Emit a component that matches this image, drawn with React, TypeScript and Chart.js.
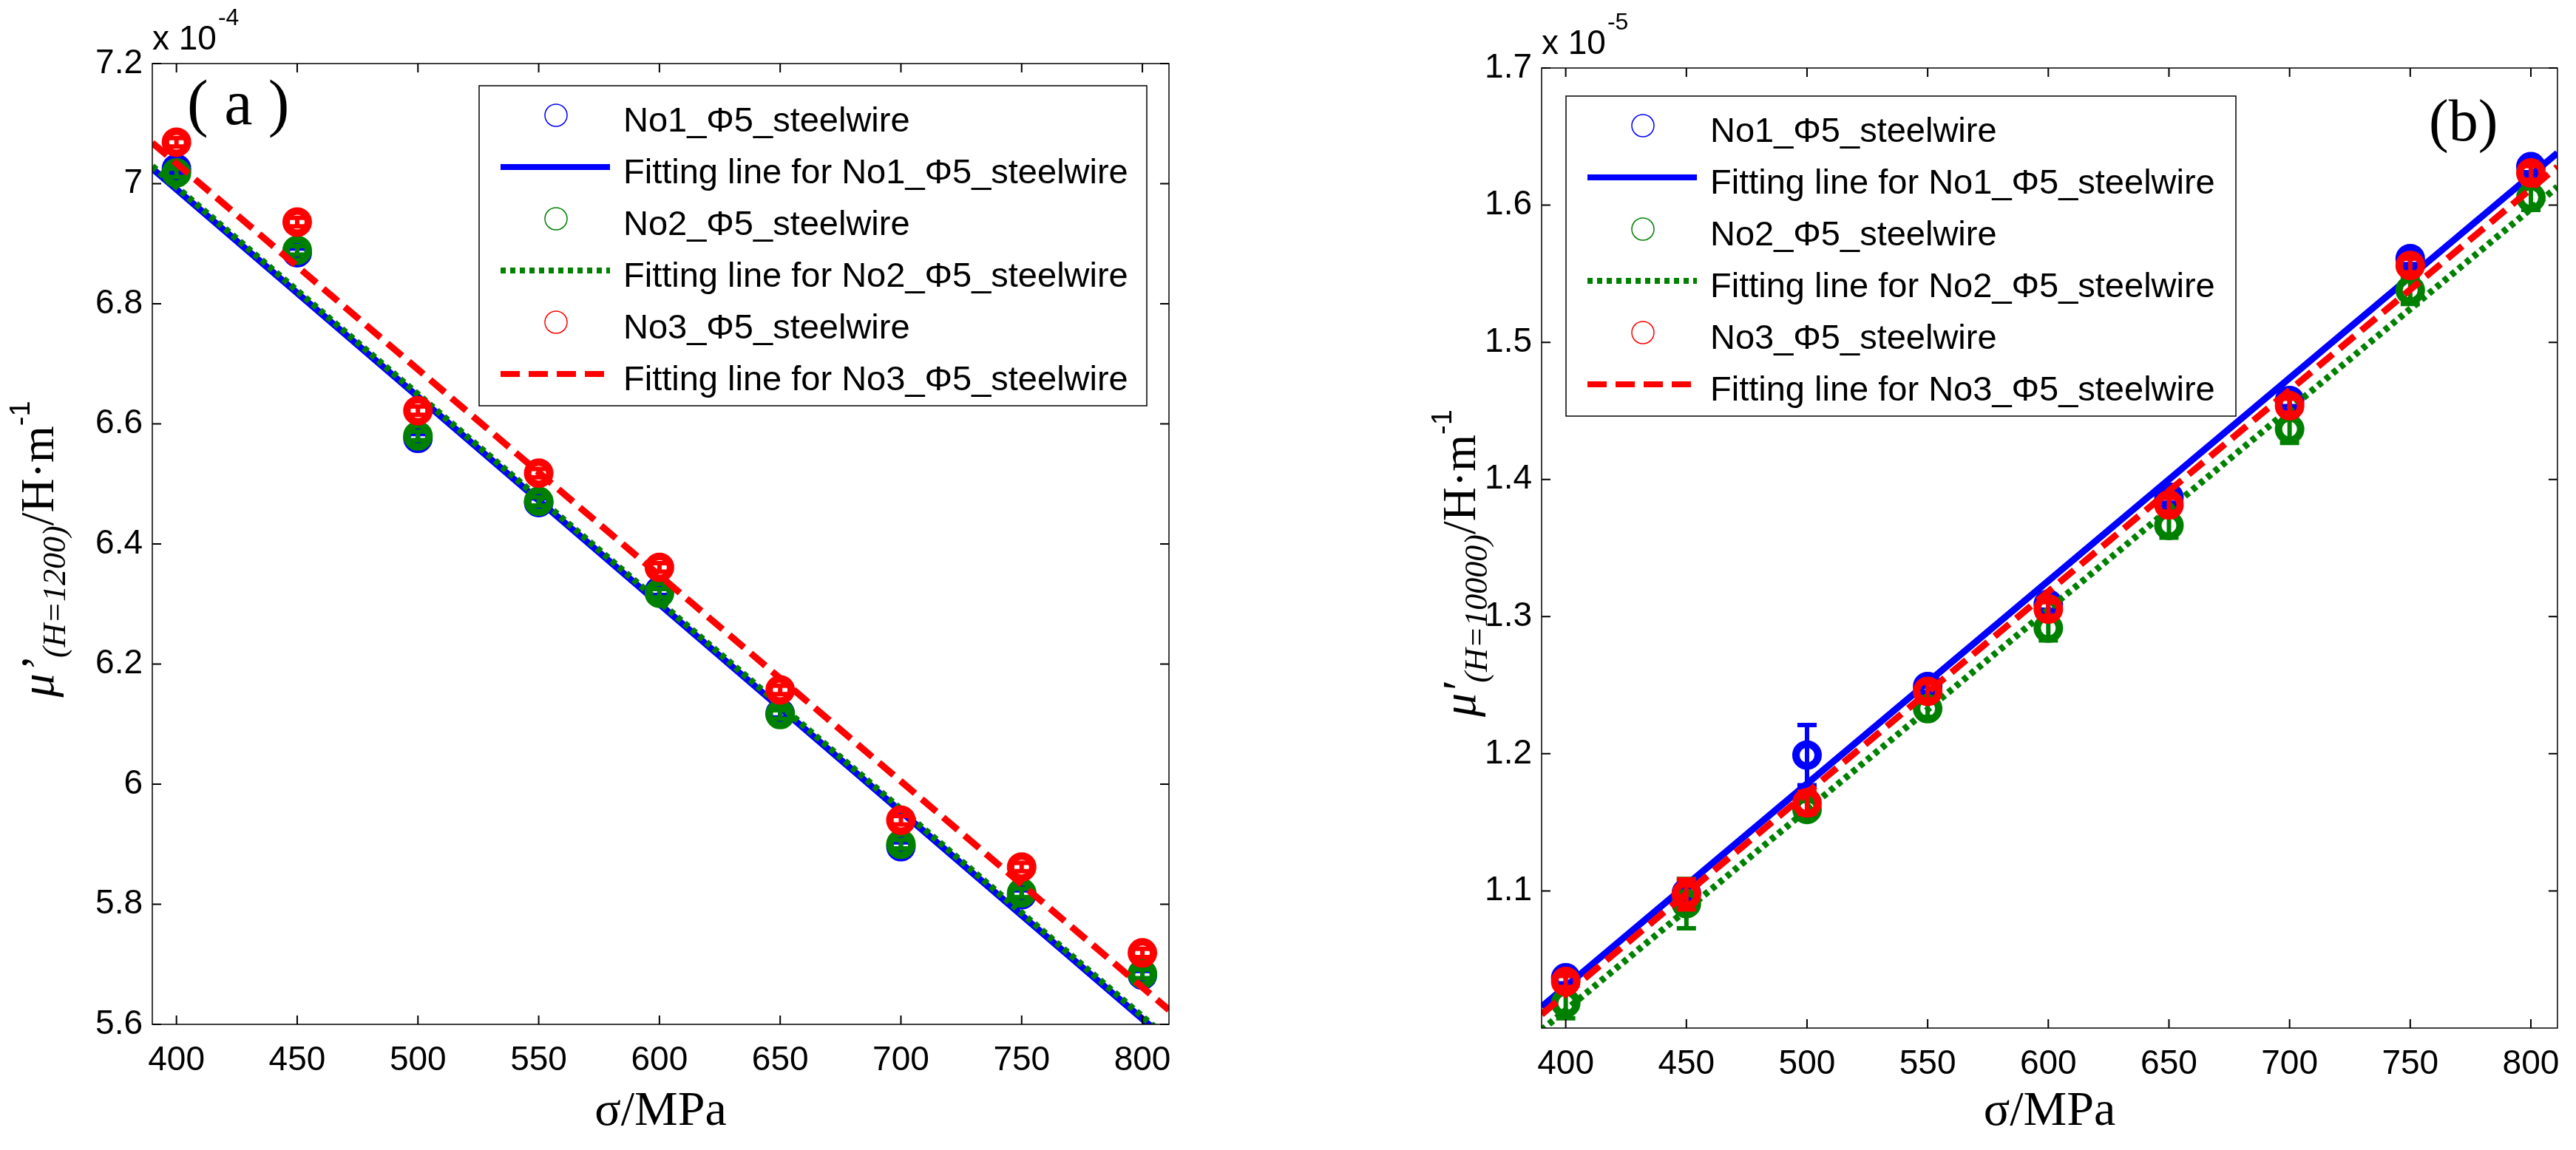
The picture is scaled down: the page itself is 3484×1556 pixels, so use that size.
import React, { useEffect, useRef } from 'react';
import { Chart, ChartConfiguration, Plugin, registerables } from 'chart.js';

Chart.register(...registerables);

// stress levels, MPa
const sigma = [400, 450, 500, 550, 600, 650, 700, 750, 800];
const xTicks = [400, 450, 500, 550, 600, 650, 700, 750, 800];
const seriesNames = ['No1_Φ5_steelwire', 'No2_Φ5_steelwire', 'No3_Φ5_steelwire'];

// (a) mu' at H=1200, units of 1e-4 H/m
const muA1 = [7.025, 6.885, 6.576, 6.469, 6.322, 6.118, 5.896, 5.816, 5.682];
const muA2 = [7.018, 6.889, 6.580, 6.471, 6.318, 6.116, 5.900, 5.819, 5.684];
const muA3 = [7.069, 6.936, 6.622, 6.518, 6.361, 6.157, 5.940, 5.862, 5.719];
const errA1 = [0.007, 0.007, 0.007, 0.007, 0.007, 0.007, 0.007, 0.007, 0.007];
const errA2 = [0.007, 0.007, 0.007, 0.007, 0.007, 0.007, 0.007, 0.007, 0.007];
const errA3 = [0.007, 0.007, 0.007, 0.007, 0.007, 0.007, 0.007, 0.007, 0.007];
const fitXA = [390, 811];
const fitA1 = [7.025, 5.571];
const fitA2 = [7.029, 5.575];
const fitA3 = [7.068, 5.624];
const yTicksA = [5.6, 5.8, 6, 6.2, 6.4, 6.6, 6.8, 7, 7.2];

// (b) mu' at H=10000, units of 1e-5 H/m
const muB1 = [1.0366, 1.0985, 1.199, 1.249, 1.309, 1.387, 1.4575, 1.561, 1.628];
const muB2 = [1.0182, 1.0907, 1.1594, 1.2329, 1.2916, 1.3665, 1.4367, 1.538, 1.6055];
const muB3 = [1.034, 1.0975, 1.1642, 1.2455, 1.3055, 1.3815, 1.4538, 1.556, 1.6235];
const errB1 = [0.004, 0.004, 0.022, 0.004, 0.004, 0.004, 0.004, 0.004, 0.004];
const errB2 = [0.011, 0.018, 0.006, 0.006, 0.009, 0.009, 0.01, 0.01, 0.009];
const errB3 = [0.004, 0.011, 0.008, 0.006, 0.005, 0.005, 0.005, 0.005, 0.005];
const fitXB = [390, 811];
const fitB1 = [1.0155, 1.638];
const fitB2 = [0.9985, 1.6134];
const fitB3 = [1.010, 1.628];
const yTicksB = [1.1, 1.2, 1.3, 1.4, 1.5, 1.6, 1.7];

const colors = ['#0000ff', '#008000', '#ff0000'];
const dashes = [[], [7, 6], [26, 12]];
const H = 1556;

type Panel = {
  series: number[][];
  errors: number[][];
  fits: number[][];
  fitX: number[];
  yMin: number;
  yMax: number;
  yTicks: number[];
  exponent: string;
  prime: string;
  sub: string;
  letter: string;
  letterSize: number;
  canvasLeft: number;
  canvasW: number;
  area: { left: number; right: number; top: number; bottom: number };
  legend: { x: number; y: number; w: number; h: number };
  yTitle: { x: number; y: number };
  letterPos: { x: number; y: number };
};

const panelA: Panel = {
  series: [muA1, muA2, muA3],
  errors: [errA1, errA2, errA3],
  fits: [fitA1, fitA2, fitA3],
  fitX: fitXA,
  yMin: 5.6,
  yMax: 7.2,
  yTicks: yTicksA,
  exponent: '-4',
  prime: 'μ’',
  sub: '(H=1200)',
  letter: '( a )',
  letterSize: 86,
  canvasLeft: 0,
  canvasW: 1700,
  area: { left: 206, right: 1581, top: 86, bottom: 1386 },
  legend: { x: 648, y: 116, w: 903, h: 433 },
  yTitle: { x: 72, y: 743 },
  letterPos: { x: 253, y: 168 },
};

const panelB: Panel = {
  series: [muB1, muB2, muB3],
  errors: [errB1, errB2, errB3],
  fits: [fitB1, fitB2, fitB3],
  fitX: fitXB,
  yMin: 1.0,
  yMax: 1.7,
  yTicks: yTicksB,
  exponent: '-5',
  prime: 'μ′',
  sub: '(H=10000)',
  letter: '(b)',
  letterSize: 80,
  canvasLeft: 1750,
  canvasW: 1734,
  area: { left: 335, right: 1712, top: 92, bottom: 1391 },
  legend: { x: 368, y: 130, w: 906, h: 433 },
  yTitle: { x: 245, y: 762 },
  letterPos: { x: 1535, y: 190 },
};

const fmt = (v: number | string) => Number(Number(v).toFixed(2)).toString();

// vertical error bars with caps, drawn together with their series
const errorBars: Plugin<'scatter'> = {
  id: 'errorBars',
  afterDatasetDraw(chart, args) {
    const ds: any = chart.data.datasets[args.index];
    if (!ds.errors) return;
    const { ctx } = chart;
    const xs = chart.scales.x;
    const ys = chart.scales.y;
    ctx.save();
    ctx.strokeStyle = ds.borderColor;
    ctx.lineWidth = 6;
    ds.data.forEach((pt: { x: number; y: number }, i: number) => {
      const e = ds.errors[i];
      const px = xs.getPixelForValue(pt.x);
      const y1 = ys.getPixelForValue(pt.y - e);
      const y2 = ys.getPixelForValue(pt.y + e);
      ctx.beginPath();
      ctx.moveTo(px, y1);
      ctx.lineTo(px, y2);
      ctx.moveTo(px - 13, y1);
      ctx.lineTo(px + 13, y1);
      ctx.moveTo(px - 13, y2);
      ctx.lineTo(px + 13, y2);
      ctx.stroke();
    });
    ctx.restore();
  },
};

function makeDecor(p: Panel): Plugin<'scatter'> {
  return {
    id: 'decor',
    afterDraw(chart) {
      const { ctx, chartArea: a } = chart;
      ctx.save();

      // box and inward ticks on all sides
      ctx.strokeStyle = '#000';
      ctx.lineWidth = 1.5;
      ctx.strokeRect(a.left, a.top, a.right - a.left, a.bottom - a.top);
      ctx.lineWidth = 2;
      const L = 12;
      ctx.beginPath();
      chart.scales.x.ticks.forEach((t) => {
        const x = chart.scales.x.getPixelForValue(t.value);
        ctx.moveTo(x, a.bottom);
        ctx.lineTo(x, a.bottom - L);
        ctx.moveTo(x, a.top);
        ctx.lineTo(x, a.top + L);
      });
      chart.scales.y.ticks.forEach((t) => {
        const y = chart.scales.y.getPixelForValue(t.value);
        ctx.moveTo(a.left, y);
        ctx.lineTo(a.left + L, y);
        ctx.moveTo(a.right, y);
        ctx.lineTo(a.right - L, y);
      });
      ctx.stroke();

      // exponent label
      ctx.fillStyle = '#000';
      ctx.textBaseline = 'alphabetic';
      ctx.textAlign = 'left';
      ctx.font = '46px "Liberation Sans"';
      ctx.fillText('x 10', a.left, a.top - 19);
      const w10 = ctx.measureText('x 10').width;
      ctx.font = '32px "Liberation Sans"';
      ctx.fillText(p.exponent, a.left + w10 + 2, a.top - 52);

      // panel letter
      ctx.font = `${p.letterSize}px "Liberation Serif"`;
      ctx.fillText(p.letter, p.letterPos.x, p.letterPos.y);

      // y axis title, rotated, mixed fonts
      const parts = [
        { t: p.prime, f: 'italic 64px "Liberation Serif"', dy: 0 },
        { t: p.sub, f: 'italic 44px "Liberation Serif"', dy: 16 },
        { t: '/H·m', f: '64px "Liberation Serif"', dy: 0 },
        { t: '-1', f: '38px "Liberation Sans"', dy: -32 },
      ];
      let total = 0;
      const widths = parts.map((q) => {
        ctx.font = q.f;
        const w = ctx.measureText(q.t).width;
        total += w;
        return w;
      });
      ctx.save();
      ctx.translate(p.yTitle.x, p.yTitle.y);
      ctx.rotate(-Math.PI / 2);
      let cx = -total / 2;
      parts.forEach((q, i) => {
        ctx.font = q.f;
        ctx.fillText(q.t, cx, q.dy);
        cx += widths[i];
      });
      ctx.restore();

      // legend box
      const lg = p.legend;
      ctx.fillStyle = '#fff';
      ctx.fillRect(lg.x, lg.y, lg.w, lg.h);
      ctx.strokeStyle = '#000';
      ctx.lineWidth = 1.5;
      ctx.strokeRect(lg.x, lg.y, lg.w, lg.h);
      chart.data.datasets.forEach((d: any, i: number) => {
        const cy = lg.y + 40 + i * 70;
        ctx.strokeStyle = d.borderColor;
        if (d.showLine) {
          ctx.lineWidth = 8;
          ctx.setLineDash(d.borderDash || []);
          ctx.beginPath();
          ctx.moveTo(lg.x + 29, cy);
          ctx.lineTo(lg.x + 177, cy);
          ctx.stroke();
          ctx.setLineDash([]);
        } else {
          ctx.lineWidth = 1.5;
          ctx.beginPath();
          ctx.arc(lg.x + 104, cy, 15, 0, Math.PI * 2);
          ctx.stroke();
        }
        ctx.fillStyle = '#000';
        ctx.font = '47px "Liberation Sans"';
        ctx.fillText(d.label, lg.x + 195, cy + 22);
      });

      ctx.restore();
    },
  };
}

function makeConfig(p: Panel): ChartConfiguration<'scatter'> {
  const datasets: any[] = [];
  p.series.forEach((vals, k) => {
    datasets.push({
      label: seriesNames[k],
      data: sigma.map((x, i) => ({ x, y: vals[i] })),
      errors: p.errors[k],
      showLine: false,
      borderColor: colors[k],
      pointBorderColor: colors[k],
      pointBackgroundColor: 'rgba(0,0,0,0)',
      pointRadius: 15,
      pointBorderWidth: 10,
      order: 6 - 2 * k,
    });
    datasets.push({
      label: 'Fitting line for ' + seriesNames[k],
      data: p.fitX.map((x, i) => ({ x, y: p.fits[k][i] })),
      showLine: true,
      borderColor: colors[k],
      borderWidth: 9,
      borderDash: dashes[k],
      borderCapStyle: 'butt',
      pointRadius: 0,
      clip: 0,
      order: 5 - 2 * k,
    });
  });

  const tickFont = { family: 'Liberation Sans', size: 46 };

  return {
    type: 'scatter',
    data: { datasets },
    options: {
      animation: false,
      responsive: false,
      devicePixelRatio: 1,
      events: [],
      layout: {
        padding: { left: 0, top: p.area.top, right: p.canvasW - p.area.right, bottom: 0 },
      },
      plugins: {
        legend: { display: false },
        tooltip: { enabled: false },
      },
      scales: {
        x: {
          type: 'linear',
          min: 390,
          max: 811,
          afterBuildTicks: (s: any) => {
            s.ticks = xTicks.map((v) => ({ value: v }));
          },
          afterFit: (s: any) => {
            s.height = H - p.area.bottom;
          },
          grid: { display: false, drawTicks: false },
          border: { display: false },
          ticks: {
            autoSkip: false,
            maxRotation: 0,
            padding: 22,
            color: '#000',
            font: tickFont,
            callback: (v: any) => fmt(v),
          },
          title: {
            display: true,
            text: 'σ/MPa',
            color: '#000',
            font: { family: 'Liberation Serif', size: 66 },
            padding: { top: 0, bottom: 12 },
          },
        },
        y: {
          type: 'linear',
          min: p.yMin,
          max: p.yMax,
          afterBuildTicks: (s: any) => {
            s.ticks = p.yTicks.map((v) => ({ value: v }));
          },
          afterFit: (s: any) => {
            s.width = p.area.left;
          },
          grid: { display: false, drawTicks: false },
          border: { display: false },
          ticks: {
            autoSkip: false,
            padding: 13,
            color: '#000',
            font: tickFont,
            callback: (v: any) => fmt(v),
          },
        },
      },
    },
    plugins: [errorBars, makeDecor(p)],
  };
}

function PanelChart({ p }: { p: Panel }) {
  const ref = useRef<HTMLCanvasElement | null>(null);

  useEffect(() => {
    const canvas = ref.current;
    if (!canvas) return;
    const chart = new Chart(canvas, makeConfig(p));
    return () => {
      chart.destroy();
    };
  }, [p]);

  return (
    <canvas
      ref={ref}
      width={p.canvasW}
      height={H}
      style={{ position: 'absolute', left: p.canvasLeft, top: 0, width: p.canvasW, height: H }}
    />
  );
}

export default function App() {
  return (
    <div style={{ position: 'absolute', left: 0, top: 0, width: 3484, height: H, background: '#fff' }}>
      <PanelChart p={panelA} />
      <PanelChart p={panelB} />
    </div>
  );
}
